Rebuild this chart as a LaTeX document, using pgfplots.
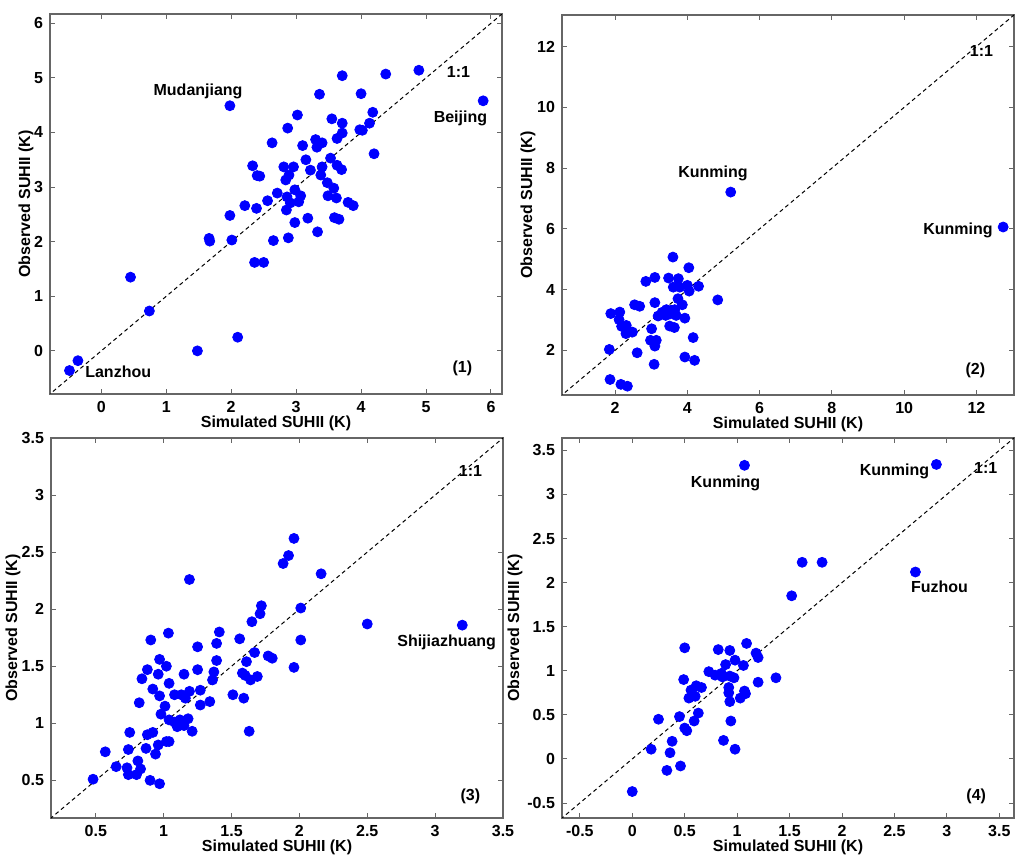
\documentclass[border=0pt]{standalone}
\usepackage{fontspec}
\setmainfont{Liberation Sans}
\usepackage{pgfplots}
\pgfplotsset{compat=1.18}

% one pixel of the reference = 0.5pt
\newcommand\lblfont{\bfseries\fontsize{8}{9.6}\selectfont}
\pgfplotsset{
  panel/.style={
    scale only axis, width=226pt, height=190pt, anchor=south west,
    axis line style={black!60, line width=0.6pt},
    tick style={black!60, line width=0.5pt},
    tick align=inside, tick pos=both, major tick length=2.5pt,
    ticklabel style={font=\lblfont, text=black},
    /pgf/number format/assume math mode=true,
    xlabel={Simulated SUHII (K)}, ylabel={Observed SUHII (K)},
    every axis x label/.style={at={(axis description cs:0.5,-0.077)}, anchor=center, font=\lblfont},
    clip mode=individual,
  },
  ylab/.style={every axis y label/.style={at={(axis description cs:-#1,0.5)}, rotate=90, anchor=center, font=\lblfont}},
  dots/.style={only marks, mark=*, mark size=2.5pt, mark options={draw=blue, fill=blue}},
  oneone/.style={black, dash pattern=on 2pt off 1.6pt, line width=0.5pt},
}
\tikzset{lbl/.style={font=\lblfont}}

\begin{document}
\begin{tikzpicture}
\path[use as bounding box] (0,0) rectangle (512pt,431.5pt);

% ---- (1)
\begin{axis}[panel, ylab=0.053, at={(25pt,234.5pt)},
  xmin=-0.79, xmax=6.17, ymin=-0.79, ymax=6.17,
  xtick={0,1,...,6}, ytick={0,1,...,6}]
\addplot[oneone] coordinates {(-1,-1) (7,7)};
\addplot[dots] coordinates {
(-0.49,-0.36) (-0.36,-0.18) (0.45,1.35) (0.74,0.73) (1.48,0.00) (2.10,0.25)
(2.36,1.62) (2.50,1.62) (1.98,4.49) (3.71,5.04) (4.38,5.07) (4.89,5.14)
(3.36,4.70) (4.00,4.71) (3.02,4.32) (3.55,4.25) (3.71,4.17) (4.18,4.37)
(4.13,4.17) (3.98,4.05) (4.02,4.04) (2.87,4.08) (3.71,3.99) (3.63,3.89)
(2.63,3.81) (3.10,3.76) (3.30,3.87) (3.40,3.81) (3.32,3.73) (4.20,3.61)
(3.15,3.50) (3.53,3.53) (3.63,3.40) (3.70,3.32) (3.40,3.37) (3.22,3.31)
(3.38,3.22) (2.33,3.39) (2.40,3.21) (2.44,3.20) (2.81,3.37) (2.96,3.37)
(2.89,3.22) (2.84,3.13) (3.48,3.08) (3.58,2.98) (2.98,2.95) (2.71,2.89)
(3.07,2.84) (2.86,2.82) (3.04,2.73) (2.91,2.71) (3.49,2.84) (3.62,2.80)
(3.80,2.72) (3.88,2.66) (2.21,2.66) (2.39,2.61) (2.56,2.75) (2.85,2.58)
(1.98,2.48) (3.18,2.43) (3.59,2.44) (3.66,2.41) (2.98,2.35) (3.33,2.18)
(1.66,2.06) (1.67,2.01) (2.01,2.03) (2.65,2.02) (2.88,2.07) (5.88,4.58)
};
\node[lbl] at (axis cs:1.49,4.75) {Mudanjiang};
\node[lbl] at (axis cs:5.53,4.25) {Beijing};
\node[lbl] at (axis cs:0.26,-0.385) {Lanzhou};
\node[lbl] at (axis cs:5.50,5.11) {1:1};
\node[lbl] at (axis cs:5.56,-0.32) {(1)};
\end{axis}

% ---- (2)
\begin{axis}[panel, ylab=0.075, at={(281pt,234pt)},
  xmin=0.53, xmax=13.04, ymin=0.53, ymax=13.04,
  xtick={2,4,...,12}, ytick={2,4,...,12}]
\addplot[oneone] coordinates {(0,0) (14,14)};
\addplot[dots] coordinates {
(5.20,7.21) (12.74,6.06) (3.60,5.07) (4.04,4.72) (2.85,4.27) (3.10,4.40)
(3.48,4.38) (3.75,4.36) (3.61,4.08) (3.79,4.08) (4.00,4.14) (4.05,3.95)
(4.31,4.11) (3.74,3.70) (3.86,3.50) (4.84,3.66) (1.88,3.21) (2.13,3.26)
(2.11,3.01) (2.18,2.79) (2.31,2.82) (2.30,2.55) (2.48,2.60) (2.54,3.50)
(2.68,3.45) (3.10,3.57) (3.19,3.13) (3.40,3.15) (3.42,3.34) (3.56,3.32)
(3.65,3.34) (3.69,3.15) (3.93,3.06) (3.51,2.80) (3.64,2.75) (3.01,2.71)
(2.98,2.33) (3.14,2.33) (3.10,2.14) (4.16,2.42) (1.84,2.03) (2.61,1.92)
(3.93,1.78) (4.20,1.67) (3.08,1.54) (1.86,1.04) (2.16,0.88) (2.34,0.82)
(3.30,3.25) (3.52,3.20)
};
\node[lbl] at (axis cs:4.71,7.81) {Kunming};
\node[lbl] at (axis cs:11.49,5.95) {Kunming};
\node[lbl] at (axis cs:12.14,11.85) {1:1};
\node[lbl] at (axis cs:11.97,1.34) {(2)};
\end{axis}

% ---- (3)
\begin{axis}[panel, ylab=0.084, at={(25.5pt,22.5pt)},
  xmin=0.17, xmax=3.5, ymin=0.17, ymax=3.5,
  xtick={0.5,1,...,3.5}, ytick={0.5,1,...,3.5}]
\addplot[oneone] coordinates {(0,0) (4,4)};
\addplot[dots] coordinates {
(3.20,1.86) (2.50,1.87) (1.96,2.62) (1.92,2.47) (1.88,2.40) (2.16,2.31)
(1.19,2.26) (1.72,2.03) (1.71,1.96) (2.01,2.01) (1.65,1.89) (2.01,1.73)
(1.035,1.79) (1.41,1.80) (0.905,1.73) (1.56,1.74) (1.39,1.70) (1.25,1.67)
(1.67,1.62) (1.77,1.59) (1.80,1.57) (1.61,1.54) (1.96,1.49) (1.39,1.55)
(0.97,1.56) (1.02,1.50) (0.88,1.47) (0.84,1.39) (0.96,1.43) (1.25,1.47)
(1.15,1.43) (1.37,1.45) (1.36,1.38) (1.58,1.44) (1.60,1.42) (1.64,1.38)
(1.69,1.41) (1.04,1.35) (0.92,1.30) (0.97,1.24) (1.08,1.25) (1.13,1.25)
(1.16,1.22) (1.19,1.28) (1.27,1.29) (1.51,1.25) (1.59,1.22) (0.82,1.18)
(1.01,1.15) (1.27,1.16) (1.34,1.19) (0.98,1.08) (1.04,1.03) (1.08,1.01)
(1.12,1.03) (1.18,1.04) (1.10,0.97) (1.15,0.98) (1.21,0.93) (1.63,0.93)
(0.75,0.92) (0.88,0.90) (0.92,0.92) (0.57,0.75) (0.74,0.77) (0.87,0.78)
(0.96,0.81) (0.94,0.73) (1.02,0.84) (1.04,0.84) (0.65,0.62) (0.73,0.61)
(0.81,0.67) (0.83,0.60) (0.74,0.55) (0.80,0.55) (0.90,0.50) (0.97,0.47)
(0.48,0.51)
};
\node[lbl] at (axis cs:3.085,1.705) {Shijiazhuang};
\node[lbl] at (axis cs:3.26,3.21) {1:1};
\node[lbl] at (axis cs:3.26,0.36) {(3)};
\end{axis}

% ---- (4)
\begin{axis}[panel, ylab=0.104, at={(281pt,22.5pt)},
  xmin=-0.67, xmax=3.64, ymin=-0.67, ymax=3.64,
  xtick={-0.5,0,...,3.5}, ytick={-0.5,0,...,3.5}]
\addplot[oneone] coordinates {(-1,-1) (4,4)};
\addplot[dots] coordinates {
(1.07,3.33) (2.90,3.34) (2.70,2.12) (1.62,2.23) (1.81,2.23) (1.52,1.85)
(1.09,1.31) (0.50,1.26) (0.82,1.24) (0.93,1.23) (1.18,1.20) (1.20,1.15)
(0.98,1.12) (0.89,1.07) (1.06,1.06) (0.73,0.99) (0.79,0.95) (0.85,0.97)
(0.86,0.93) (0.93,0.94) (0.97,0.92) (1.37,0.92) (0.49,0.90) (1.20,0.87)
(0.61,0.83) (0.66,0.81) (0.56,0.78) (0.92,0.81) (1.07,0.77) (0.92,0.75)
(1.08,0.74) (0.58,0.72) (0.54,0.69) (0.60,0.71) (1.03,0.69) (0.93,0.65)
(0.63,0.52) (0.45,0.48) (0.25,0.45) (0.59,0.43) (0.94,0.43) (0.50,0.35)
(0.52,0.32) (0.87,0.21) (0.38,0.20) (0.18,0.11) (0.98,0.11) (0.36,0.07)
(0.33,-0.13) (0.46,-0.08) (0.00,-0.37)
};
\node[lbl] at (axis cs:0.89,3.13) {Kunming};
\node[lbl] at (axis cs:2.50,3.26) {Kunming};
\node[lbl] at (axis cs:2.93,1.95) {Fuzhou};
\node[lbl] at (axis cs:3.37,3.30) {1:1};
\node[lbl] at (axis cs:3.28,-0.42) {(4)};
\end{axis}
\end{tikzpicture}
\end{document}
